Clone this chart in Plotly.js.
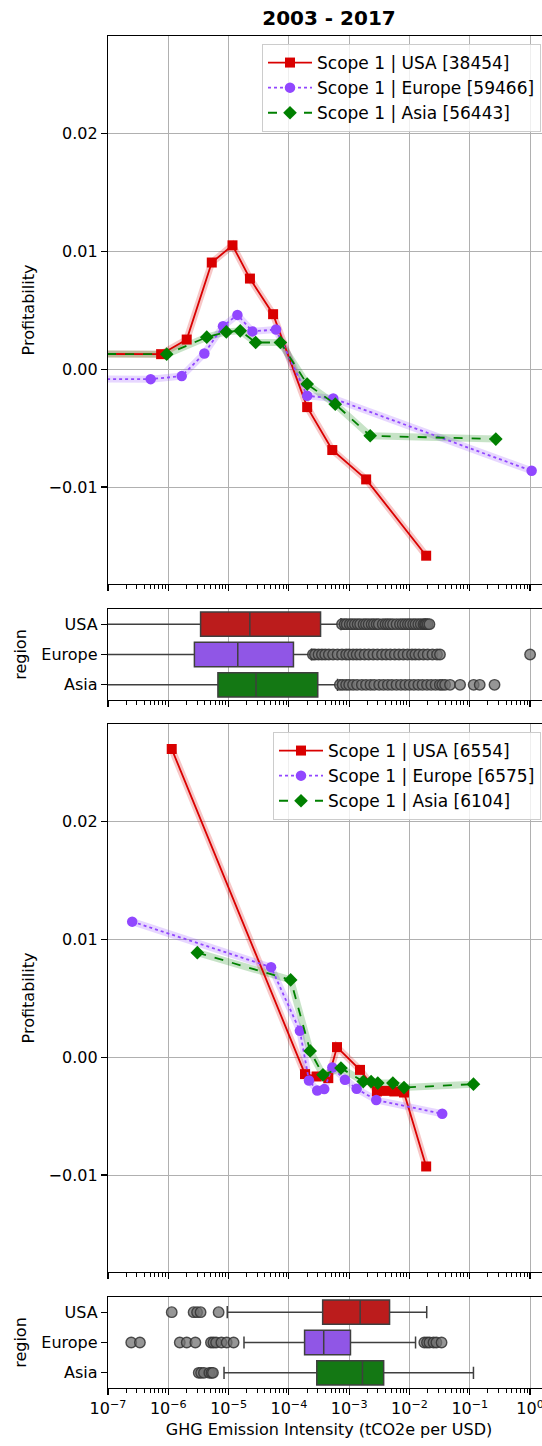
<!DOCTYPE html>
<html>
<head>
<meta charset="utf-8">
<script src="https://cdn.plot.ly/plotly-3.0.1.min.js"></script>
<style>
  html, body { margin: 0; padding: 0; overflow: hidden; background: #fff; }
  #plot { width: 550px; height: 1446px; }
</style>
</head>
<body>
<div id="plot"></div>
<script>
// ---------------- DATA ----------------
const chartTitle = '2003 - 2017';
const regions = ['USA', 'Europe', 'Asia'];

// Panel 1 (binned profitability vs intensity)
const legend1Names = ['Scope 1 | USA [38454]', 'Scope 1 | Europe [59466]', 'Scope 1 | Asia [56443]'];
const usaX1  = [1e-10, 7.6e-7, 2.02e-6, 5.26e-6, 1.16e-5, 2.26e-5, 5.47e-5, 2.01e-4, 5.24e-4, 1.91e-3, 1.89e-2];
const usaY1  = [0.00133, 0.00127, 0.00251, 0.00904, 0.0105, 0.00768, 0.00466, -0.00322, -0.00686, -0.00935, -0.01582];
const eurX1  = [1e-10, 5.1e-7, 1.67e-6, 3.96e-6, 8.07e-6, 1.40e-5, 2.48e-5, 6.12e-5, 2.01e-4, 5.44e-4, 1.06];
const eurY1  = [-0.00079, -0.00085, -0.00059, 0.00133, 0.00364, 0.0046, 0.0032, 0.00336, -0.00226, -0.00249, -0.00862];
const asiaX1 = [1e-10, 9.4e-7, 4.34e-6, 9.16e-6, 1.56e-5, 2.81e-5, 7.23e-5, 2.01e-4, 5.87e-4, 2.23e-3, 0.270];
const asiaY1 = [0.00133, 0.00127, 0.00271, 0.00316, 0.00325, 0.00226, 0.00226, -0.00127, -0.00297, -0.00565, -0.00593];

// Panel 2 boxplot stats
const q1_1  = [3.43e-6, 2.71e-6, 6.65e-6];
const med_1 = [2.25e-5, 1.42e-5, 2.85e-5];
const q3_1  = [3.35e-4, 1.19e-4, 3.01e-4];
const lo_1  = [1e-9, 1e-9, 1e-9];
const hi_1  = [7.3e-4, 2.37e-4, 6.4e-4];
const outUSA1  = [7.6e-4, 8.4e-4, 9.1e-4, 1.02e-3, 1.12e-3, 1.24e-3, 1.38e-3, 1.52e-3, 1.73e-3, 1.9e-3, 2.1e-3, 2.35e-3, 2.57e-3, 2.85e-3, 3.1e-3, 3.6e-3, 4.0e-3, 4.37e-3, 4.8e-3, 5.33e-3, 6.1e-3, 6.95e-3, 7.7e-3, 8.5e-3, 9.4e-3, 1.03e-2, 1.15e-2, 1.26e-2, 1.4e-2, 1.54e-2, 1.7e-2, 1.8e-2, 1.88e-2, 2.0e-2, 2.14e-2];
const outEur1  = [2.5e-4, 2.71e-4, 3.1e-4, 3.53e-4, 4.0e-4, 4.6e-4, 5.4e-4, 6.4e-4, 7.6e-4, 8.9e-4, 1.0e-3, 1.16e-3, 1.33e-3, 1.52e-3, 1.8e-3, 2.11e-3, 2.5e-3, 2.94e-3, 3.5e-3, 4.09e-3, 4.8e-3, 5.7e-3, 6.7e-3, 7.9e-3, 9.3e-3, 1.1e-2, 1.25e-2, 1.44e-2, 1.7e-2, 2.0e-2, 2.4e-2, 2.86e-2, 3.2e-2, 1.0];
const outAsia1 = [7.0e-4, 7.8e-4, 8.9e-4, 1.0e-3, 1.16e-3, 1.35e-3, 1.62e-3, 1.9e-3, 2.25e-3, 2.6e-3, 3.14e-3, 3.7e-3, 4.37e-3, 5.1e-3, 6.08e-3, 7.2e-3, 8.5e-3, 1.0e-2, 1.18e-2, 1.4e-2, 1.64e-2, 1.95e-2, 2.29e-2, 2.7e-2, 3.18e-2, 3.5e-2, 3.9e-2, 4.7e-2, 6.9e-2, 1.16e-1, 1.46e-1, 2.57e-1];

// Panel 3
const legend2Names = ['Scope 1 | USA [6554]', 'Scope 1 | Europe [6575]', 'Scope 1 | Asia [6104]'];
const usaX2  = [1.14e-6, 1.85e-4, 2.89e-4, 4.5e-4, 6.28e-4, 1.51e-3, 2.88e-3, 4.07e-3, 5.6e-3, 8.1e-3, 1.89e-2];
const usaY2  = [0.02613, -0.00144, -0.00164, -0.00178, 0.00085, -0.00108, -0.00291, -0.00286, -0.00291, -0.003, -0.00927];
const eurX2  = [2.52e-7, 5.06e-5, 1.52e-4, 2.15e-4, 2.95e-4, 3.86e-4, 5.25e-4, 8.5e-4, 1.33e-3, 2.81e-3, 3.49e-2];
const eurY2  = [0.01149, 0.00763, 0.00223, -0.00198, -0.00283, -0.00271, -0.00088, -0.00192, -0.00269, -0.00364, -0.0048];
const asiaX2 = [3.03e-6, 1.07e-4, 2.25e-4, 3.67e-4, 7.3e-4, 1.71e-3, 2.31e-3, 2.98e-3, 5.3e-3, 8.1e-3, 0.115];
const asiaY2 = [0.00886, 0.00655, 0.00053, -0.0015, -0.00093, -0.00207, -0.00207, -0.0022, -0.0022, -0.00258, -0.00229];

// Panel 4 boxplot stats
const q1_2  = [3.63e-4, 1.82e-4, 2.9e-4];
const med_2 = [1.52e-3, 3.78e-4, 1.66e-3];
const q3_2  = [4.67e-3, 1.05e-3, 3.73e-3];
const lo_2  = [9.5e-6, 1.8e-5, 8.4e-6];
const hi_2  = [0.0193, 0.0126, 0.115];
const outUSA2  = [1.14e-6, 2.63e-6, 3.0e-6, 3.43e-6, 6.83e-6];
const outEur2  = [2.43e-7, 3.38e-7, 1.55e-6, 2.02e-6, 2.81e-6, 5.1e-6, 5.6e-6, 6.2e-6, 7.6e-6, 9.3e-6, 1.21e-5, 1.76e-2, 1.95e-2, 2.14e-2, 2.5e-2, 2.79e-2, 3.4e-2];
const outAsia2 = [3.2e-6, 3.5e-6, 3.9e-6, 4.8e-6, 5.2e-6, 5.5e-6];

// Axis ticks
const xTickVals = [1e-7, 1e-6, 1e-5, 1e-4, 1e-3, 1e-2, 1e-1, 1e0];
const xTickText = ['10<sup>\u22127</sup>', '10<sup>\u22126</sup>', '10<sup>\u22125</sup>', '10<sup>\u22124</sup>', '10<sup>\u22123</sup>', '10<sup>\u22122</sup>', '10<sup>\u22121</sup>', '10<sup>0</sup>'];
const yTickVals = [-0.01, 0.0, 0.01, 0.02];
const yTickText = ['\u22120.01', '0.00', '0.01', '0.02'];
const xTitle = 'GHG Emission Intensity (tCO2e per USD)';
const yTitleLine = 'Profitability';
const yTitleBox = 'region';

// ---------------- STYLE ----------------
const lineColors = ['#d90000', '#9147ff', '#008000'];
const bandColors = ['rgba(217,0,0,0.22)', 'rgba(145,71,255,0.22)', 'rgba(0,128,0,0.22)'];
const boxColors = ['#bb1c1c', '#9056e6', '#147814'];
const dashes = ['solid', 'dot', 'dash'];
const symbols = ['square', 'circle', 'diamond'];
const sizes = [10, 10.5, 10.5];

const FIG_H = 1446, T = 36, B = 58, L = 108, R = 0;
const PH = FIG_H - T - B;
function dom(topPx, botPx) { return [(FIG_H - B - botPx) / PH, (FIG_H - B - topPx) / PH]; }

const minorVals = [];
for (let e = -7; e <= 0; e++) for (let k = 2; k <= 9; k++) minorVals.push(k * Math.pow(10, e));

const font = { family: 'DejaVu Sans, sans-serif', size: 16, color: '#000' };

function xAxis(anchor, showLabels) {
  return {
    type: 'log', range: [-7, 0.33], anchor: anchor,
    tickmode: 'array', tickvals: xTickVals, ticktext: xTickText,
    showticklabels: showLabels, ticks: 'outside', ticklen: 6, tickwidth: 1.2, tickcolor: '#000',
    showgrid: true, gridcolor: '#b0b0b0', gridwidth: 1,
    showline: true, mirror: true, linecolor: '#000', linewidth: 1.2,
    zeroline: false, tickfont: { size: 16 },
    minor: { tickmode: 'array', tickvals: minorVals, ticks: 'outside', ticklen: 3.5, tickwidth: 1, tickcolor: '#000', showgrid: false }
  };
}
function yLineAxis(domain) {
  return {
    domain: domain, range: [-0.01822, 0.02825], tickmode: 'array', tickvals: yTickVals, ticktext: yTickText,
    ticks: 'outside', ticklen: 6, tickwidth: 1.2, tickcolor: '#000',
    showgrid: true, gridcolor: '#b0b0b0', gridwidth: 1,
    showline: true, mirror: true, linecolor: '#000', linewidth: 1.2, zeroline: false,
    title: { text: yTitleLine, standoff: 10, font: { size: 16 } }
  };
}
function yBoxAxis(domain) {
  return {
    domain: domain, type: 'category', categoryorder: 'array', categoryarray: regions, range: [2.5, -0.5],
    ticks: 'outside', ticklen: 6, tickwidth: 1.2, tickcolor: '#000', showgrid: false,
    showline: true, mirror: true, linecolor: '#000', linewidth: 1.2, zeroline: false,
    title: { text: yTitleBox, standoff: 10, font: { size: 16 } }
  };
}

const traces = [];
function addLines(xs, ys, names, xa, ya, leg) {
  for (let i = 0; i < 3; i++) {
    traces.push({ x: xs[i], y: ys[i], xaxis: xa, yaxis: ya, mode: 'lines', type: 'scatter',
      line: { color: bandColors[i], width: 7 }, showlegend: false, hoverinfo: 'skip' });
  }
  for (let i = 0; i < 3; i++) {
    traces.push({ x: xs[i], y: ys[i], xaxis: xa, yaxis: ya, mode: 'lines+markers', type: 'scatter',
      name: names[i], legend: leg,
      line: { color: lineColors[i], width: 1.8, dash: dashes[i] },
      marker: { symbol: symbols[i], size: sizes[i], color: lineColors[i] } });
  }
}
function addBoxes(q1, med, q3, lo, hi, outs, xa, ya) {
  for (let i = 0; i < 3; i++) {
    traces.push({ type: 'box', orientation: 'h', xaxis: xa, yaxis: ya, y: [regions[i]],
      q1: [q1[i]], median: [med[i]], q3: [q3[i]], lowerfence: [lo[i]], upperfence: [hi[i]],
      fillcolor: boxColors[i], line: { color: '#3f3f3f', width: 1.5 }, width: 0.8, whiskerwidth: 0.5,
      boxpoints: false, showlegend: false, hoverinfo: 'skip' });
    traces.push({ type: 'scatter', mode: 'markers', xaxis: xa, yaxis: ya, x: outs[i], y: outs[i].map(() => regions[i]),
      marker: { symbol: 'circle', size: 10.5, color: 'rgba(115,115,115,0.75)', line: { color: 'rgba(50,50,50,0.85)', width: 1.4 } },
      showlegend: false, hoverinfo: 'skip' });
  }
}

addLines([usaX1, eurX1, asiaX1], [usaY1, eurY1, asiaY1], legend1Names, 'x', 'y', 'legend');
addBoxes(q1_1, med_1, q3_1, lo_1, hi_1, [outUSA1, outEur1, outAsia1], 'x2', 'y2');
addLines([usaX2, eurX2, asiaX2], [usaY2, eurY2, asiaY2], legend2Names, 'x3', 'y3', 'legend2');
addBoxes(q1_2, med_2, q3_2, lo_2, hi_2, [outUSA2, outEur2, outAsia2], 'x4', 'y4');

const legX = (541 - L) / (550 - L - R);
const legendBase = { xanchor: 'right', yanchor: 'top', x: legX, bgcolor: 'rgba(255,255,255,0.8)',
  bordercolor: '#cccccc', borderwidth: 1, font: { size: 17 }, itemwidth: 44 };

const xa4 = xAxis('y4', true);
xa4.title = { text: xTitle, font: { size: 16 }, standoff: 6 };

const layout = {
  width: 550, height: FIG_H,
  margin: { t: T, b: B, l: L, r: R, pad: 0 },
  paper_bgcolor: '#fff', plot_bgcolor: '#fff',
  font: font,
  title: { text: '<b>' + chartTitle + '</b>', font: { size: 20 }, x: 0.5, xref: 'paper', xanchor: 'center',
           y: 1 - 18 / FIG_H, yref: 'container', yanchor: 'middle' },
  showlegend: true,
  legend: Object.assign({}, legendBase, { y: (FIG_H - B - 44) / PH }),
  legend2: Object.assign({}, legendBase, { y: (FIG_H - B - 732) / PH }),
  xaxis: xAxis('y', false),
  xaxis2: xAxis('y2', false),
  xaxis3: xAxis('y3', false),
  xaxis4: xa4,
  yaxis: yLineAxis(dom(36, 584)),
  yaxis2: yBoxAxis(dom(609, 700)),
  yaxis3: yLineAxis(dom(724, 1272)),
  yaxis4: yBoxAxis(dom(1297, 1388))
};

Plotly.newPlot('plot', traces, layout, { displayModeBar: false, staticPlot: true });
</script>
</body>
</html>
